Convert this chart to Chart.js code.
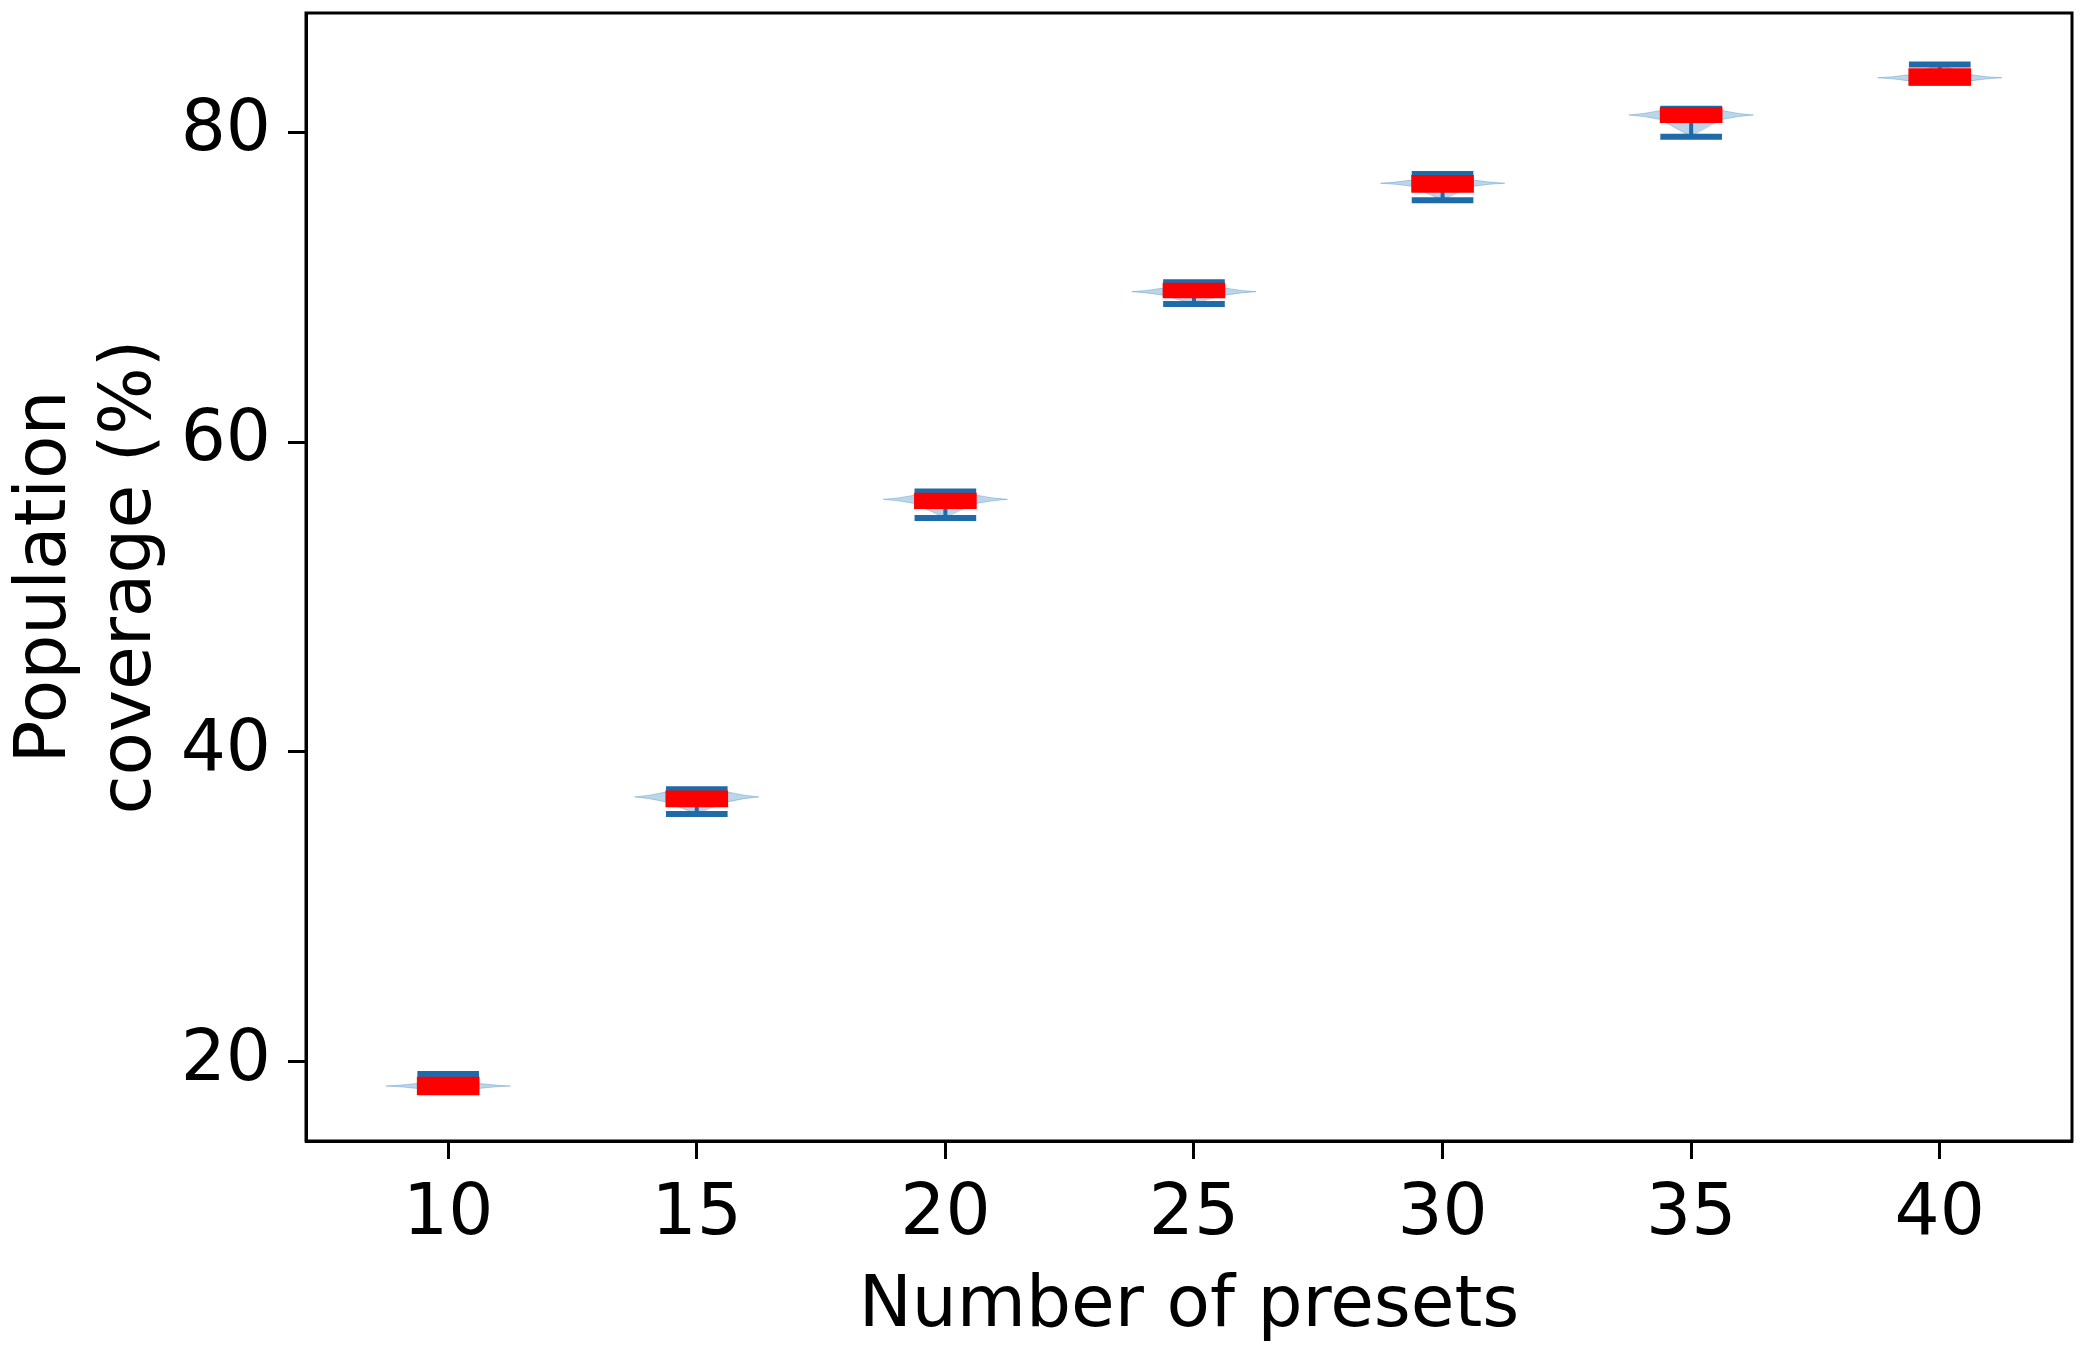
<!DOCTYPE html>
<html lang="en">
<head>
  <meta charset="UTF-8" />
  <title>Population coverage vs number of presets</title>
  <script src="https://cdn.jsdelivr.net/npm/chart.js"></script>
  <style>
    body {
      margin: 0;
      background: white;
    }
    #wrap {
      width: 2085px;
      height: 1352px;
    }
  </style>
</head>
<body>

  <div id="wrap"><canvas id="chart"></canvas></div>

  <script>
    // values
    const presets = [10, 15, 20, 25, 30, 35, 40];
    const maxVals = [19.23, 37.6, 56.8, 70.3, 77.3, 81.5, 84.35];
    const q3Vals = [19.03, 37.5, 56.7, 70.25, 77.2, 81.6, 84.1];
    const q1Vals = [17.87, 36.45, 55.7, 69.3, 76.1, 80.6, 83.0];
    const minVals = [18.1, 36.0, 55.1, 68.9, 75.6, 79.7, 83.2];
    const modeVals = [18.45, 37.1, 56.3, 69.7, 76.7, 81.1, 83.5];
    const spread = [0.16, 0.32, 0.27, 0.23, 0.2, 0.29, 0.2];

    const xTicks = [10, 15, 20, 25, 30, 35, 40];
    const yTicks = [20, 40, 60, 80];

    const blue = '#1f6aa8';
    const halfBox = 0.62;   // half width of a box, in x units
    const halfViolin = 1.25;

    // caps at min and max, plus the connecting stem
    const capLine = vals => {
      const pts = [];
      presets.forEach((c, i) => {
        pts.push({ x: c - halfBox, y: vals[i] }, { x: c + halfBox, y: vals[i] }, { x: c, y: null });
      });
      return pts;
    };
    const stem = [];
    presets.forEach((c, i) => {
      stem.push({ x: c, y: minVals[i] }, { x: c, y: maxVals[i] }, { x: c, y: null });
    });

    // violin outlines
    const violins = presets.map((c, i) => {
      const m = modeVals[i], t = spread[i];
      return {
        type: 'line',
        order: 3,
        data: [
          { x: c, y: minVals[i] },
          { x: c - halfBox, y: m - t },
          { x: c - 0.95, y: m - t * 0.35 },
          { x: c - halfViolin, y: m },
          { x: c - 0.95, y: m + t * 0.35 },
          { x: c - halfBox, y: m + t },
          { x: c, y: maxVals[i] },
          { x: c + halfBox, y: m + t },
          { x: c + 0.95, y: m + t * 0.35 },
          { x: c + halfViolin, y: m },
          { x: c + 0.95, y: m - t * 0.35 },
          { x: c + halfBox, y: m - t }
        ],
        fill: 'shape',
        backgroundColor: 'rgba(31,119,180,0.3)',
        borderColor: 'rgba(31,119,180,0.3)',
        borderWidth: 1,
        pointRadius: 0,
        tension: 0
      };
    });

    const frame = {
      id: 'frame',
      afterDatasetsDraw(chart) {
        const { ctx, chartArea: a } = chart;
        ctx.save();
        ctx.strokeStyle = '#000';
        ctx.lineWidth = 3;
        ctx.strokeRect(a.left, a.top, a.right - a.left, a.bottom - a.top);
        ctx.restore();
      }
    };

    const font = { family: 'DejaVu Sans', size: 71 };

    new Chart(document.getElementById('chart'), {
      type: 'bar',
      data: {
        datasets: [
          {
            order: 0,
            data: presets.map((c, i) => ({ x: c, y: [q1Vals[i], q3Vals[i]] })),
            backgroundColor: '#ff0000',
            borderWidth: 0,
            barThickness: 62
          },
          {
            type: 'line', order: 1, data: capLine(maxVals),
            borderColor: blue, borderWidth: 6, pointRadius: 0, spanGaps: false
          },
          {
            type: 'line', order: 1, data: capLine(minVals),
            borderColor: blue, borderWidth: 6, pointRadius: 0, spanGaps: false
          },
          {
            type: 'line', order: 2, data: stem,
            borderColor: blue, borderWidth: 4, pointRadius: 0, spanGaps: false
          },
          ...violins
        ]
      },
      options: {
        responsive: true,
        maintainAspectRatio: false,
        animation: false,
        layout: { padding: { top: 13, right: 13, left: 0, bottom: 0 } },
        plugins: { legend: { display: false }, tooltip: { enabled: false } },
        scales: {
          x: {
            type: 'linear',
            min: 7.14,
            max: 42.66,
            offset: false,
            afterFit: s => { s.height = 211; s.paddingLeft = 0; s.paddingRight = 0; },
            afterBuildTicks: s => { s.ticks = xTicks.map(v => ({ value: v })); },
            grid: { offset: false, drawOnChartArea: false, tickLength: 18, tickWidth: 3, tickColor: '#000' },
            border: { display: true, color: '#000', width: 3 },
            ticks: { font, color: '#000', padding: 14, maxRotation: 0 },
            title: {
              display: true, text: 'Number of presets', font, color: '#000',
              padding: { top: 0, bottom: 2 }
            }
          },
          y: {
            type: 'linear',
            min: 14.9,
            max: 87.68,
            afterFit: s => { s.width = 306; s.paddingTop = 0; s.paddingBottom = 0; },
            afterBuildTicks: s => { s.ticks = yTicks.map(v => ({ value: v })); },
            grid: { drawOnChartArea: false, tickLength: 18, tickWidth: 3, tickColor: '#000' },
            border: { display: true, color: '#000', width: 3 },
            ticks: { font, color: '#000', padding: 17 },
            title: {
              display: true, text: ['Population', 'coverage (%)'], font, color: '#000',
              padding: { top: 4, bottom: 0 }
            }
          }
        }
      },
      plugins: [frame]
    });
  </script>

</body>
</html>
